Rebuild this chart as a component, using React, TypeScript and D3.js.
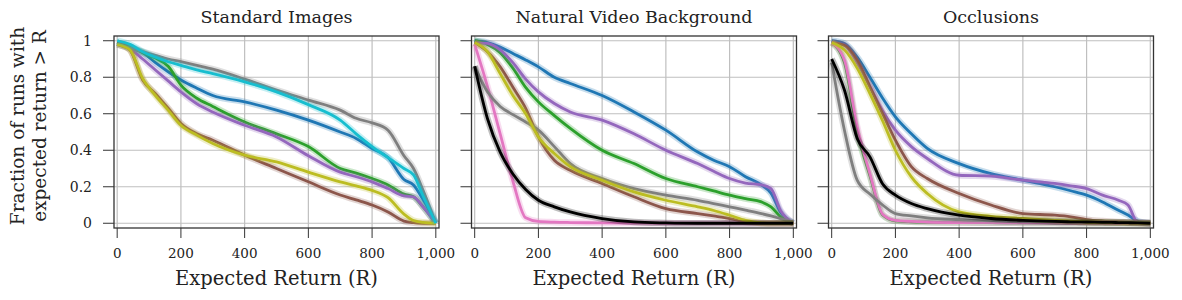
import React, { useEffect, useRef } from 'react';
import * as d3 from 'd3';

// expected return grid (x) shared by every curve
const returnsGrid = [0, 40, 80, 120, 160, 200, 250, 300, 400, 500, 600, 700, 750, 800, 850, 900, 930, 960, 1000];

const xTicks = [0, 200, 400, 600, 800, 1000];
const yTicks = [0, 0.2, 0.4, 0.6, 0.8, 1];

const panelTitles = ['Standard Images', 'Natural Video Background', 'Occlusions'];

// Standard Images
const stdBlue = [0.99, 0.97, 0.935, 0.88, 0.83, 0.785, 0.74, 0.70, 0.665, 0.62, 0.565, 0.50, 0.465, 0.41, 0.36, 0.24, 0.21, 0.13, 0];
const stdGreen = [0.99, 0.965, 0.935, 0.905, 0.86, 0.757, 0.685, 0.64, 0.555, 0.49, 0.42, 0.30, 0.275, 0.245, 0.21, 0.16, 0.145, 0.09, 0];
const stdPurple = [0.98, 0.955, 0.90, 0.84, 0.78, 0.72, 0.655, 0.61, 0.537, 0.473, 0.37, 0.28, 0.255, 0.227, 0.19, 0.15, 0.145, 0.09, 0];
const stdBrown = [0.99, 0.95, 0.785, 0.71, 0.63, 0.547, 0.49, 0.455, 0.373, 0.30, 0.227, 0.155, 0.128, 0.10, 0.062, 0.012, 0.003, 0, 0];
const stdGray = [0.98, 0.96, 0.94, 0.92, 0.90, 0.885, 0.865, 0.845, 0.79, 0.73, 0.675, 0.62, 0.575, 0.55, 0.51, 0.37, 0.30, 0.18, 0];
const stdOlive = [0.98, 0.95, 0.793, 0.70, 0.62, 0.537, 0.483, 0.437, 0.373, 0.336, 0.28, 0.227, 0.205, 0.18, 0.14, 0.05, 0.015, 0.005, 0];
const stdCyan = [1.0, 0.98, 0.94, 0.91, 0.885, 0.865, 0.84, 0.82, 0.775, 0.72, 0.65, 0.565, 0.49, 0.42, 0.36, 0.30, 0.265, 0.15, 0];

// Natural Video Background
const vidBlue = [1.0, 0.99, 0.965, 0.93, 0.895, 0.857, 0.80, 0.766, 0.70, 0.61, 0.51, 0.39, 0.345, 0.31, 0.255, 0.21, 0.165, 0.06, 0];
const vidGreen = [1.0, 0.98, 0.935, 0.85, 0.745, 0.665, 0.59, 0.52, 0.40, 0.327, 0.245, 0.20, 0.177, 0.154, 0.135, 0.117, 0.09, 0.035, 0];
const vidPurple = [0.99, 0.985, 0.95, 0.88, 0.79, 0.72, 0.656, 0.61, 0.565, 0.49, 0.40, 0.327, 0.285, 0.245, 0.22, 0.21, 0.19, 0.07, 0];
const vidBrown = [0.99, 0.94, 0.857, 0.745, 0.63, 0.473, 0.345, 0.29, 0.218, 0.145, 0.08, 0.053, 0.04, 0.026, 0.007, 0.002, 0, 0, 0];
const vidPink = [0.98, 0.75, 0.49, 0.23, 0.03, 0.01, 0.006, 0.004, 0.002, 0.001, 0, 0, 0, 0, 0, 0, 0, 0, 0];
const vidGray = [0.86, 0.72, 0.64, 0.595, 0.555, 0.51, 0.42, 0.327, 0.245, 0.19, 0.154, 0.126, 0.108, 0.09, 0.072, 0.053, 0.04, 0.025, 0.005];
const vidOlive = [0.99, 0.94, 0.82, 0.70, 0.60, 0.473, 0.382, 0.31, 0.236, 0.172, 0.126, 0.09, 0.07, 0.044, 0.016, 0.002, 0, 0, 0];
const vidBlack = [0.86, 0.574, 0.39, 0.27, 0.185, 0.126, 0.09, 0.062, 0.026, 0.007, 0.002, 0, 0, 0, 0, 0, 0, 0, 0];

// Occlusions
const occBlue = [1.0, 0.985, 0.91, 0.80, 0.685, 0.583, 0.49, 0.41, 0.327, 0.272, 0.236, 0.20, 0.178, 0.154, 0.117, 0.071, 0.045, 0.012, 0];
const occGreen = [0.99, 0.88, 0.50, 0.26, 0.045, 0.013, 0.008, 0.006, 0.004, 0.003, 0.002, 0.001, 0, 0, 0, 0, 0, 0, 0];
const occPurple = [0.99, 0.976, 0.88, 0.75, 0.615, 0.51, 0.42, 0.355, 0.263, 0.258, 0.236, 0.218, 0.205, 0.19, 0.154, 0.126, 0.10, 0.005, 0];
const occBrown = [0.99, 0.975, 0.894, 0.748, 0.60, 0.455, 0.31, 0.245, 0.163, 0.10, 0.053, 0.044, 0.035, 0.02, 0.012, 0.007, 0.005, 0.003, 0];
const occPink = [0.99, 0.894, 0.53, 0.272, 0.05, 0.016, 0.01, 0.007, 0.004, 0.003, 0.002, 0.001, 0, 0, 0, 0, 0, 0, 0];
const occGray = [0.88, 0.51, 0.236, 0.16, 0.10, 0.053, 0.04, 0.03, 0.02, 0.013, 0.01, 0.008, 0.007, 0.006, 0.006, 0.005, 0.005, 0.005, 0.005];
const occOlive = [0.99, 0.95, 0.85, 0.71, 0.56, 0.40, 0.254, 0.163, 0.062, 0.038, 0.026, 0.016, 0.012, 0.007, 0.005, 0.003, 0.002, 0.001, 0];
const occBlack = [0.90, 0.73, 0.465, 0.364, 0.215, 0.154, 0.108, 0.08, 0.044, 0.026, 0.016, 0.01, 0.008, 0.007, 0.005, 0.004, 0.003, 0.002, 0];

const C = {
  blue: '#1f77b4', green: '#2ca02c', purple: '#9467bd', brown: '#8c564b',
  pink: '#e377c2', gray: '#7f7f7f', olive: '#bcbd22', cyan: '#17becf', black: '#000000',
};

const panels = [
  [[stdBlue, C.blue], [stdGreen, C.green], [stdPurple, C.purple], [stdBrown, C.brown],
   [stdGray, C.gray], [stdOlive, C.olive], [stdCyan, C.cyan]],
  [[vidBlue, C.blue], [vidGreen, C.green], [vidPurple, C.purple], [vidBrown, C.brown],
   [vidPink, C.pink], [vidGray, C.gray], [vidOlive, C.olive], [vidBlack, C.black]],
  [[occBlue, C.blue], [occGreen, C.green], [occPurple, C.purple], [occBrown, C.brown],
   [occPink, C.pink], [occGray, C.gray], [occOlive, C.olive], [occBlack, C.black]],
] as [number[], string][][];

const W = 1182;
const H = 300;
const FONT = '"DejaVu Serif", serif';

function App() {
  const ref = useRef<SVGSVGElement>(null);

  useEffect(() => {
    const svg = d3.select(ref.current);
    svg.selectAll('*').remove();

    const frameW = 325;
    const top = 36;
    const bottom = 228;
    const lefts = [114, 471.5, 828.5];

    const y = d3.scaleLinear().domain([-0.026, 1.026]).range([bottom, top]);

    panels.forEach((series, p) => {
      const left = lefts[p];
      const x = d3.scaleLinear().domain([-10, 1010]).range([left, left + frameW]);
      const g = svg.append('g');

      // grid
      g.selectAll('.gx').data(xTicks).enter().append('line')
        .attr('x1', d => x(d)).attr('x2', d => x(d))
        .attr('y1', top).attr('y2', bottom)
        .attr('stroke', '#bfbfbf').attr('stroke-width', 1.2);
      g.selectAll('.gy').data(yTicks).enter().append('line')
        .attr('x1', left).attr('x2', left + frameW)
        .attr('y1', d => y(d)).attr('y2', d => y(d))
        .attr('stroke', '#bfbfbf').attr('stroke-width', 1.2);

      const line = d3.line<number>()
        .x((d, i) => x(returnsGrid[i]))
        .y(d => y(d))
        .curve(d3.curveMonotoneX);

      // shaded bands, then lines
      series.forEach(([vals, col]) => {
        g.append('path').attr('d', line(vals)).attr('fill', 'none')
          .attr('stroke', col).attr('stroke-opacity', 0.25)
          .attr('stroke-width', 6.5).attr('stroke-linejoin', 'round');
        g.append('path').attr('d', line(vals)).attr('fill', 'none')
          .attr('stroke', col).attr('stroke-width', 2.8)
          .attr('stroke-linejoin', 'round');
      });

      // frame
      g.append('rect')
        .attr('x', left).attr('y', top)
        .attr('width', frameW).attr('height', bottom - top)
        .attr('fill', 'none').attr('stroke', '#333').attr('stroke-width', 1.3);

      // ticks
      g.selectAll('.tx').data(xTicks).enter().append('line')
        .attr('x1', d => x(d)).attr('x2', d => x(d))
        .attr('y1', bottom).attr('y2', bottom + 10)
        .attr('stroke', '#333').attr('stroke-width', 1);
      g.selectAll('.ty').data(yTicks).enter().append('line')
        .attr('x1', left - 11).attr('x2', left)
        .attr('y1', d => y(d)).attr('y2', d => y(d))
        .attr('stroke', '#333').attr('stroke-width', 1);

      g.selectAll('.lx').data(xTicks).enter().append('text')
        .attr('x', d => x(d)).attr('y', 258)
        .attr('text-anchor', 'middle')
        .style('font-family', FONT).style('font-size', '13.5px').attr('fill', '#222')
        .text(d => d3.format(',')(d));

      if (p === 0) {
        g.selectAll('.ly').data(yTicks).enter().append('text')
          .attr('x', left - 22).attr('y', d => y(d))
          .attr('dy', '0.36em').attr('text-anchor', 'end')
          .style('font-family', FONT).style('font-size', '14px').attr('fill', '#222')
          .text(d => String(d));
      }

      g.append('text')
        .attr('x', left + frameW / 2).attr('y', 23)
        .attr('text-anchor', 'middle')
        .style('font-family', FONT).style('font-size', '17.5px').attr('fill', '#222')
        .text(panelTitles[p]);

      g.append('text')
        .attr('x', left + frameW / 2).attr('y', 285)
        .attr('text-anchor', 'middle')
        .style('font-family', FONT).style('font-size', '19.5px').attr('fill', '#222')
        .text('Expected Return (R)');
    });

    const ylab = svg.append('text')
      .attr('transform', 'translate(0,126) rotate(-90)')
      .attr('text-anchor', 'middle')
      .style('font-family', FONT).style('font-size', '18.5px').attr('fill', '#222');
    ylab.append('tspan').attr('x', 0).attr('y', 24).text('Fraction of runs with');
    ylab.append('tspan').attr('x', 0).attr('y', 46).text('expected return > R');
  }, []);

  return (
    <div style={{ margin: -8 }}>
      <svg ref={ref} width={W} height={H} style={{ display: 'block', background: '#fff' }} />
    </div>
  );
}

export default App;
